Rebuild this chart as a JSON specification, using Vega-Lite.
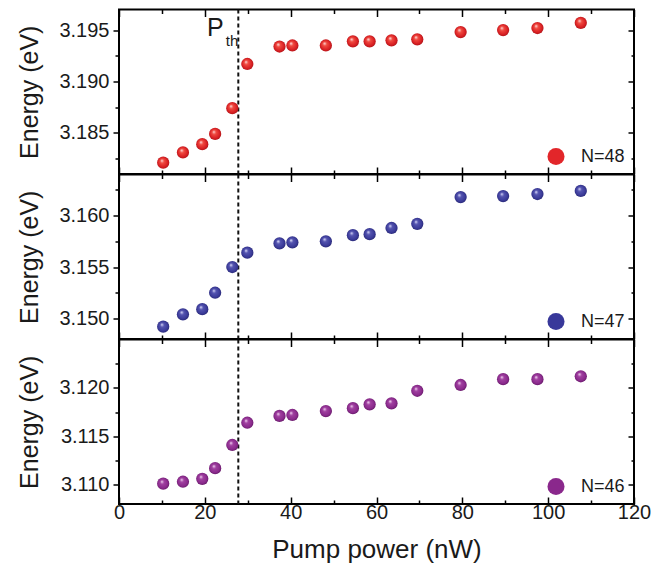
{
  "$schema": "https://vega.github.io/schema/vega-lite/v6.json",
  "padding": {"left": 16, "top": 7.5, "right": 20, "bottom": 10},
  "config": {
    "font": "Liberation Sans",
    "view": {"stroke": "black", "strokeWidth": 2},
    "axis": {"domain": false, "grid": false, "tickColor": "black", "tickWidth": 1.5, "labelFontSize": 20, "labelColor": "#1a1a1a", "titleFontSize": 25, "titleFontWeight": "normal", "titleColor": "#1a1a1a", "labelFont": "Liberation Sans", "titleFont": "Liberation Sans"},
    "legend": {"orient": "bottom-right", "offset": 9, "padding": 0, "symbolType": "circle", "symbolSize": 290, "symbolStrokeWidth": 0, "symbolOpacity": 1, "labelFontSize": 18, "labelOffset": 16, "labelColor": "#1a1a1a", "labelFont": "Liberation Sans"}
  },
  "datasets": {
    "pts": [
      {"panel": "N=48", "power": 10.3, "energy": 3.1821},
      {"panel": "N=48", "power": 14.9, "energy": 3.1831},
      {"panel": "N=48", "power": 19.4, "energy": 3.1839},
      {"panel": "N=48", "power": 22.4, "energy": 3.1849},
      {"panel": "N=48", "power": 26.4, "energy": 3.1874},
      {"panel": "N=48", "power": 29.9, "energy": 3.1917},
      {"panel": "N=48", "power": 37.4, "energy": 3.1934},
      {"panel": "N=48", "power": 40.4, "energy": 3.1935},
      {"panel": "N=48", "power": 48.2, "energy": 3.1935},
      {"panel": "N=48", "power": 54.5, "energy": 3.1939},
      {"panel": "N=48", "power": 58.4, "energy": 3.1939},
      {"panel": "N=48", "power": 63.5, "energy": 3.1940},
      {"panel": "N=48", "power": 69.5, "energy": 3.1941},
      {"panel": "N=48", "power": 79.6, "energy": 3.1948},
      {"panel": "N=48", "power": 89.5, "energy": 3.1950},
      {"panel": "N=48", "power": 97.5, "energy": 3.1952},
      {"panel": "N=48", "power": 107.6, "energy": 3.1957},
      {"panel": "N=47", "power": 10.3, "energy": 3.1492},
      {"panel": "N=47", "power": 14.9, "energy": 3.1504},
      {"panel": "N=47", "power": 19.4, "energy": 3.1509},
      {"panel": "N=47", "power": 22.4, "energy": 3.1525},
      {"panel": "N=47", "power": 26.4, "energy": 3.1550},
      {"panel": "N=47", "power": 29.9, "energy": 3.1564},
      {"panel": "N=47", "power": 37.4, "energy": 3.1573},
      {"panel": "N=47", "power": 40.4, "energy": 3.1574},
      {"panel": "N=47", "power": 48.2, "energy": 3.1575},
      {"panel": "N=47", "power": 54.5, "energy": 3.1581},
      {"panel": "N=47", "power": 58.4, "energy": 3.1582},
      {"panel": "N=47", "power": 63.5, "energy": 3.1588},
      {"panel": "N=47", "power": 69.5, "energy": 3.1592},
      {"panel": "N=47", "power": 79.6, "energy": 3.1618},
      {"panel": "N=47", "power": 89.5, "energy": 3.1619},
      {"panel": "N=47", "power": 97.5, "energy": 3.1621},
      {"panel": "N=47", "power": 107.6, "energy": 3.1624},
      {"panel": "N=46", "power": 10.3, "energy": 3.1101},
      {"panel": "N=46", "power": 14.9, "energy": 3.1103},
      {"panel": "N=46", "power": 19.4, "energy": 3.1106},
      {"panel": "N=46", "power": 22.4, "energy": 3.1117},
      {"panel": "N=46", "power": 26.4, "energy": 3.1141},
      {"panel": "N=46", "power": 29.9, "energy": 3.1164},
      {"panel": "N=46", "power": 37.4, "energy": 3.1171},
      {"panel": "N=46", "power": 40.4, "energy": 3.1172},
      {"panel": "N=46", "power": 48.2, "energy": 3.1176},
      {"panel": "N=46", "power": 54.5, "energy": 3.1179},
      {"panel": "N=46", "power": 58.4, "energy": 3.1183},
      {"panel": "N=46", "power": 63.5, "energy": 3.1184},
      {"panel": "N=46", "power": 69.5, "energy": 3.1197},
      {"panel": "N=46", "power": 79.6, "energy": 3.1203},
      {"panel": "N=46", "power": 89.5, "energy": 3.1209},
      {"panel": "N=46", "power": 97.5, "energy": 3.1209},
      {"panel": "N=46", "power": 107.6, "energy": 3.1212}
    ],
    "threshold": [{"pth": 27.8}]
  },
  "spacing": 0,
  "bounds": "flush",
  "resolve": {"scale": {"color": "independent"}, "legend": {"color": "independent"}},
  "vconcat": [
    {
      "width": 515, "height": 164.5,
      "resolve": {"axis": {"x": "independent", "y": "independent"}},
      "layer": [
        {
          "data": {"name": "threshold"},
          "mark": {"type": "rule", "strokeDash": [4, 3], "strokeWidth": 2, "color": "#111"},
          "encoding": {"x": {"field": "pth", "type": "quantitative", "axis": null}}
        },
        {
          "data": {"name": "pts"},
          "transform": [{"filter": "datum.panel === 'N=48'"}],
          "mark": {"type": "point", "filled": true, "size": 150, "opacity": 1, "strokeWidth": 0,
            "fill": {"gradient": "radial", "x1": 0.38, "y1": 0.32, "r1": 0, "x2": 0.5, "y2": 0.5, "r2": 0.55,
              "stops": [{"offset": 0, "color": "#ffe6e6"}, {"offset": 0.3, "color": "#f04a40"}, {"offset": 0.75, "color": "#d81e22"}, {"offset": 1, "color": "#a01418"}]}},
          "encoding": {
            "x": {"field": "power", "type": "quantitative", "scale": {"domain": [0, 120], "nice": false},
              "axis": {"orient": "bottom", "values": [0, 10, 20, 30, 40, 50, 60, 70, 80, 90, 100, 110, 120], "labels": false, "title": null,
                "tickSize": {"condition": {"test": "datum.value % 20 === 0", "value": -7}, "value": -4}}},
            "y": {"field": "energy", "type": "quantitative", "scale": {"domain": [3.181, 3.197], "nice": false, "zero": false},
              "axis": {"orient": "left", "values": [3.1825, 3.185, 3.1875, 3.19, 3.1925, 3.195], "format": ".3f",
                "labelExpr": "round(datum.value*10000) % 50 === 0 ? datum.label : ''", "labelPadding": 4,
                "tickSize": {"condition": {"test": "round(datum.value*10000) % 50 === 0", "value": 6}, "value": 4},
                "title": "Energy (eV)", "titlePadding": 16}}
          }
        },
        {
          "data": {"name": "pts"},
          "transform": [{"filter": "datum.panel === 'N=48'"}],
          "mark": {"type": "point", "opacity": 0},
          "encoding": {
            "x": {"field": "power", "type": "quantitative",
              "axis": {"orient": "top", "values": [0, 10, 20, 30, 40, 50, 60, 70, 80, 90, 100, 110, 120], "labels": false, "title": null,
                "tickSize": {"condition": {"test": "datum.value % 20 === 0", "value": -7}, "value": -4}}},
            "y": {"field": "energy", "type": "quantitative",
              "axis": {"orient": "right", "values": [3.1825, 3.185, 3.1875, 3.19, 3.1925, 3.195], "labels": false, "title": null,
                "tickSize": {"condition": {"test": "round(datum.value*10000) % 50 === 0", "value": -6}, "value": -3}}}
          }
        },
        {
          "data": {"name": "pts"},
          "transform": [{"filter": "false"}],
          "mark": {"type": "point", "filled": true, "opacity": 1},
          "encoding": {"color": {"datum": "N=48", "type": "nominal", "scale": {"domain": ["N=48"], "range": ["#e2262a"]}, "legend": {"title": null}}}
        },
        {
          "data": {"name": "threshold"},
          "mark": {"type": "text", "text": "P", "fontSize": 25, "align": "left", "baseline": "alphabetic", "color": "#1a1a1a"},
          "encoding": {"x": {"datum": 20.5, "type": "quantitative", "axis": null}, "y": {"datum": 3.19445, "type": "quantitative", "axis": null}}
        },
        {
          "data": {"name": "threshold"},
          "mark": {"type": "text", "text": "th", "fontSize": 15, "align": "left", "baseline": "alphabetic", "color": "#1a1a1a"},
          "encoding": {"x": {"datum": 24.9, "type": "quantitative", "axis": null}, "y": {"datum": 3.19348, "type": "quantitative", "axis": null}}
        }
      ]
    },
    {
      "width": 515, "height": 164.5,
      "resolve": {"axis": {"x": "independent", "y": "independent"}},
      "layer": [
        {
          "data": {"name": "threshold"},
          "mark": {"type": "rule", "strokeDash": [4, 3], "strokeWidth": 2, "color": "#111"},
          "encoding": {"x": {"field": "pth", "type": "quantitative", "axis": null}}
        },
        {
          "data": {"name": "pts"},
          "transform": [{"filter": "datum.panel === 'N=47'"}],
          "mark": {"type": "point", "filled": true, "size": 150, "opacity": 1, "strokeWidth": 0,
            "fill": {"gradient": "radial", "x1": 0.38, "y1": 0.32, "r1": 0, "x2": 0.5, "y2": 0.5, "r2": 0.55,
              "stops": [{"offset": 0, "color": "#e4e4ff"}, {"offset": 0.3, "color": "#5454b0"}, {"offset": 0.75, "color": "#3a3a98"}, {"offset": 1, "color": "#23236a"}]}},
          "encoding": {
            "x": {"field": "power", "type": "quantitative", "scale": {"domain": [0, 120], "nice": false},
              "axis": {"orient": "bottom", "values": [0, 10, 20, 30, 40, 50, 60, 70, 80, 90, 100, 110, 120], "labels": false, "title": null,
                "tickSize": {"condition": {"test": "datum.value % 20 === 0", "value": -7}, "value": -4}}},
            "y": {"field": "energy", "type": "quantitative", "scale": {"domain": [3.148, 3.164], "nice": false, "zero": false},
              "axis": {"orient": "left", "values": [3.15, 3.1525, 3.155, 3.1575, 3.16, 3.1625], "format": ".3f",
                "labelExpr": "round(datum.value*10000) % 50 === 0 ? datum.label : ''", "labelPadding": 4,
                "tickSize": {"condition": {"test": "round(datum.value*10000) % 50 === 0", "value": 6}, "value": 4},
                "title": "Energy (eV)", "titlePadding": 16}}
          }
        },
        {
          "data": {"name": "pts"},
          "transform": [{"filter": "datum.panel === 'N=47'"}],
          "mark": {"type": "point", "opacity": 0},
          "encoding": {
            "x": {"field": "power", "type": "quantitative",
              "axis": {"orient": "top", "values": [0, 10, 20, 30, 40, 50, 60, 70, 80, 90, 100, 110, 120], "labels": false, "title": null,
                "tickSize": {"condition": {"test": "datum.value % 20 === 0", "value": -7}, "value": -4}}},
            "y": {"field": "energy", "type": "quantitative",
              "axis": {"orient": "right", "values": [3.15, 3.1525, 3.155, 3.1575, 3.16, 3.1625], "labels": false, "title": null,
                "tickSize": {"condition": {"test": "round(datum.value*10000) % 50 === 0", "value": -6}, "value": -3}}}
          }
        },
        {
          "data": {"name": "pts"},
          "transform": [{"filter": "false"}],
          "mark": {"type": "point", "filled": true, "opacity": 1},
          "encoding": {"color": {"datum": "N=47", "type": "nominal", "scale": {"domain": ["N=47"], "range": ["#38389a"]}, "legend": {"title": null}}}
        }
      ]
    },
    {
      "width": 515, "height": 164.5,
      "resolve": {"axis": {"x": "independent", "y": "independent"}},
      "layer": [
        {
          "data": {"name": "threshold"},
          "mark": {"type": "rule", "strokeDash": [4, 3], "strokeWidth": 2, "color": "#111"},
          "encoding": {"x": {"field": "pth", "type": "quantitative", "axis": null}}
        },
        {
          "data": {"name": "pts"},
          "transform": [{"filter": "datum.panel === 'N=46'"}],
          "mark": {"type": "point", "filled": true, "size": 150, "opacity": 1, "strokeWidth": 0,
            "fill": {"gradient": "radial", "x1": 0.38, "y1": 0.32, "r1": 0, "x2": 0.5, "y2": 0.5, "r2": 0.55,
              "stops": [{"offset": 0, "color": "#fae0fa"}, {"offset": 0.3, "color": "#a040a0"}, {"offset": 0.75, "color": "#8a2a8c"}, {"offset": 1, "color": "#5a145c"}]}},
          "encoding": {
            "x": {"field": "power", "type": "quantitative", "scale": {"domain": [0, 120], "nice": false},
              "axis": {"orient": "bottom", "values": [0, 10, 20, 30, 40, 50, 60, 70, 80, 90, 100, 110, 120],
                "labelExpr": "datum.value % 20 === 0 ? datum.label : ''", "labelPadding": 5, "labelFlush": false,
                "title": "Pump power (nW)", "titlePadding": 14, "titleFontSize": 26,
                "tickSize": {"condition": {"test": "datum.value % 20 === 0", "value": -7}, "value": -4}}},
            "y": {"field": "energy", "type": "quantitative", "scale": {"domain": [3.108, 3.125], "nice": false, "zero": false},
              "axis": {"orient": "left", "values": [3.11, 3.1125, 3.115, 3.1175, 3.12, 3.1225], "format": ".3f",
                "labelExpr": "round(datum.value*10000) % 50 === 0 ? datum.label : ''", "labelPadding": 4,
                "tickSize": {"condition": {"test": "round(datum.value*10000) % 50 === 0", "value": 6}, "value": 4},
                "title": "Energy (eV)", "titlePadding": 16}}
          }
        },
        {
          "data": {"name": "pts"},
          "transform": [{"filter": "datum.panel === 'N=46'"}],
          "mark": {"type": "point", "opacity": 0},
          "encoding": {
            "x": {"field": "power", "type": "quantitative",
              "axis": {"orient": "top", "values": [0, 10, 20, 30, 40, 50, 60, 70, 80, 90, 100, 110, 120], "labels": false, "title": null,
                "tickSize": {"condition": {"test": "datum.value % 20 === 0", "value": -7}, "value": -4}}},
            "y": {"field": "energy", "type": "quantitative",
              "axis": {"orient": "right", "values": [3.11, 3.1125, 3.115, 3.1175, 3.12, 3.1225], "labels": false, "title": null,
                "tickSize": {"condition": {"test": "round(datum.value*10000) % 50 === 0", "value": -6}, "value": -3}}}
          }
        },
        {
          "data": {"name": "pts"},
          "transform": [{"filter": "false"}],
          "mark": {"type": "point", "filled": true, "opacity": 1},
          "encoding": {"color": {"datum": "N=46", "type": "nominal", "scale": {"domain": ["N=46"], "range": ["#8a288c"]}, "legend": {"title": null}}}
        }
      ]
    }
  ]
}
